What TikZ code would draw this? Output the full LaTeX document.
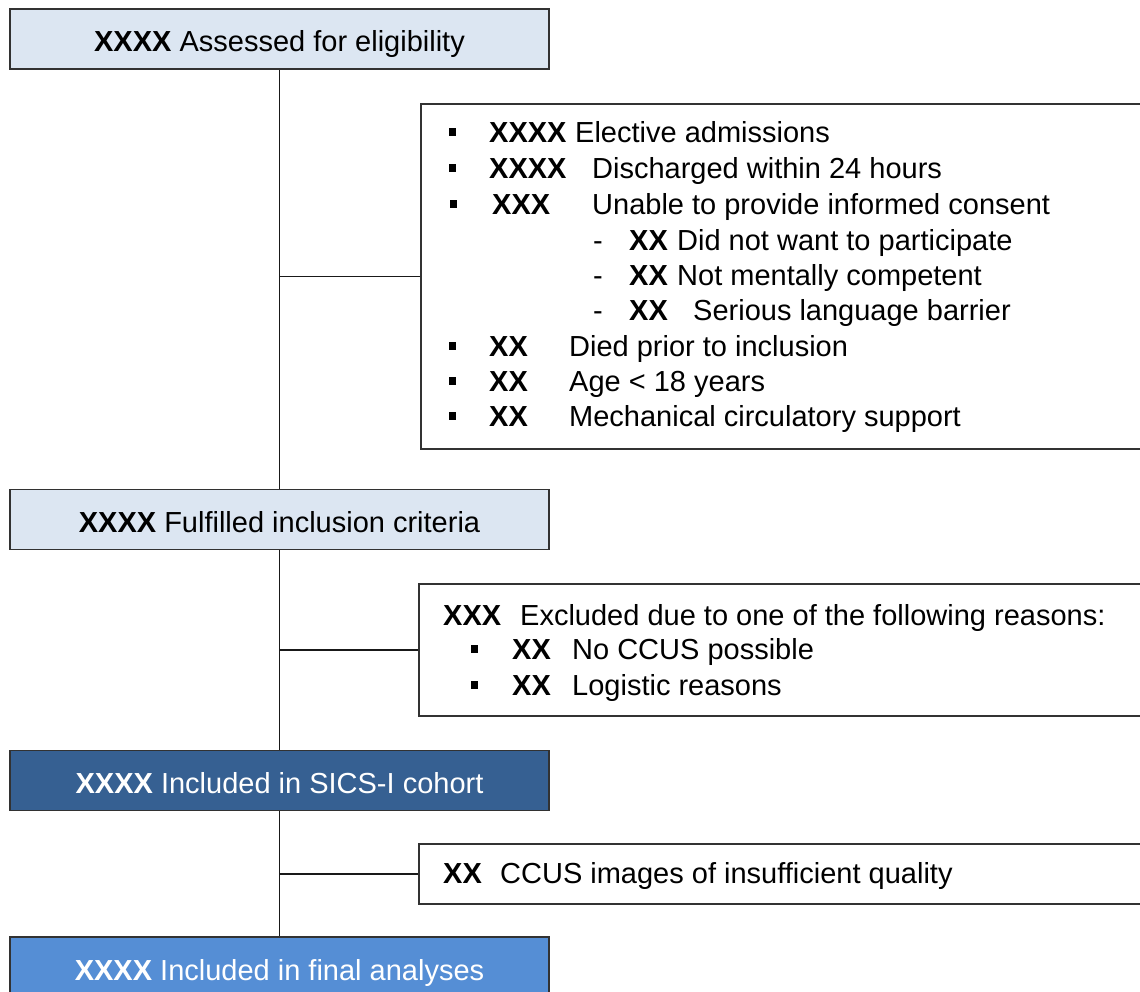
\documentclass[tikz,border=0pt]{standalone}
\usepackage{fontspec}
\setmainfont{Liberation Sans}
\definecolor{lightbox}{RGB}{220,230,242}
\definecolor{darkbox}{RGB}{54,96,146}
\definecolor{midbox}{RGB}{85,142,213}
\definecolor{edge}{RGB}{50,50,50}
\begin{document}
\begin{tikzpicture}[x=1pt,y=-1pt,
  every node/.style={font=\fontsize{29}{34}\selectfont},
  mainbox/.style={draw=edge, line width=1.8pt, minimum width=539pt, minimum height=60pt, inner sep=0pt, text height=25pt, text depth=0pt},
  sidebox/.style={draw=edge, line width=1.8pt, fill=white, anchor=north west, inner sep=0pt},
  txt/.style={anchor=base west, inner sep=0pt},
  bul/.style={fill=black, minimum width=7pt, minimum height=8pt, inner sep=0pt, font=\tiny},
  conn/.style={line width=1.8pt, black!90}]
\useasboundingbox (0,0) rectangle (1140,991);

% main boxes
\node[mainbox, fill=lightbox] (b1) at (279.5,39) {\textbf{XXXX} Assessed for eligibility};
\node[mainbox, fill=lightbox] (b2) at (279.5,519.5) {\textbf{XXXX} Fulfilled inclusion criteria};
\node[mainbox, fill=darkbox, text=white] (b3) at (279.5,780.5) {\textbf{XXXX} Included in SICS-I cohort};
\node[mainbox, fill=midbox, text=white, minimum height=62pt] (b4) at (279.5,968) {\textbf{XXXX} Included in final analyses};

% side boxes
\node[sidebox, minimum width=740pt, minimum height=345pt] (s1) at (420,103) {};
\node[sidebox, minimum width=740pt, minimum height=132pt] (s2) at (418,583) {};
\node[sidebox, minimum width=740pt, minimum height=60pt] (s3) at (418,843) {};

% connectors
\draw[conn] (b1.south) -- (b2.north);
\draw[conn] (b2.south) -- (b3.north);
\draw[conn] (b3.south) -- (b4.north);
\draw[conn] (b1.south |- s1.west) -- (s1.west);
\draw[conn] (b2.south |- s2.west) -- (s2.west);
\draw[conn] (b3.south |- s3.west) -- (s3.west);

% side box 1 contents
\node[bul] (p1) at (452,132) {};
\node[txt] (t1a) at (489,142) {\textbf{XXXX}};
\node[txt] (t1b) at (575,142) {Elective admissions};
\node[bul] (p2) at (452,168) {};
\node[txt] (t2a) at (489,178) {\textbf{XXXX}};
\node[txt] (t2b) at (592,178) {Discharged within 24 hours};
\node[bul] (p3) at (453,204) {};
\node[txt] (t3a) at (492,214) {\textbf{XXX}};
\node[txt] (t3b) at (592,214) {Unable to provide informed consent};
\node[txt] (d4) at (593,250) {-};
\node[txt] (t4a) at (629,250) {\textbf{XX}};
\node[txt] (t4b) at (677,250) {Did not want to participate};
\node[txt] (d5) at (593,285) {-};
\node[txt] (t5a) at (629,285) {\textbf{XX}};
\node[txt] (t5b) at (677,285) {Not mentally competent};
\node[txt] (d6) at (593,320) {-};
\node[txt] (t6a) at (629,320) {\textbf{XX}};
\node[txt] (t6b) at (693,320) {Serious language barrier};
\node[bul] (p7) at (452,346) {};
\node[txt] (t7a) at (489,356) {\textbf{XX}};
\node[txt] (t7b) at (569,356) {Died prior to inclusion};
\node[bul] (p8) at (452,381) {};
\node[txt] (t8a) at (489,391) {\textbf{XX}};
\node[txt] (t8b) at (569,391) {Age < 18 years};
\node[bul] (p9) at (452,416) {};
\node[txt] (t9a) at (489,426) {\textbf{XX}};
\node[txt] (t9b) at (569,426) {Mechanical circulatory support};

% side box 2 contents
\node[txt] (u1a) at (443,625) {\textbf{XXX}};
\node[txt] (u1b) at (520,625) {Excluded due to one of the following reasons:};
\node[bul] (q2) at (474,649) {};
\node[txt] (u2a) at (512,659) {\textbf{XX}};
\node[txt] (u2b) at (572,659) {No CCUS possible};
\node[bul] (q3) at (474,685) {};
\node[txt] (u3a) at (512,695) {\textbf{XX}};
\node[txt] (u3b) at (572,695) {Logistic reasons};

% side box 3 contents
\node[txt] (v1a) at (443,883) {\textbf{XX}};
\node[txt] (v1b) at (500,883) {CCUS images of insufficient quality};
\end{tikzpicture}
\end{document}
